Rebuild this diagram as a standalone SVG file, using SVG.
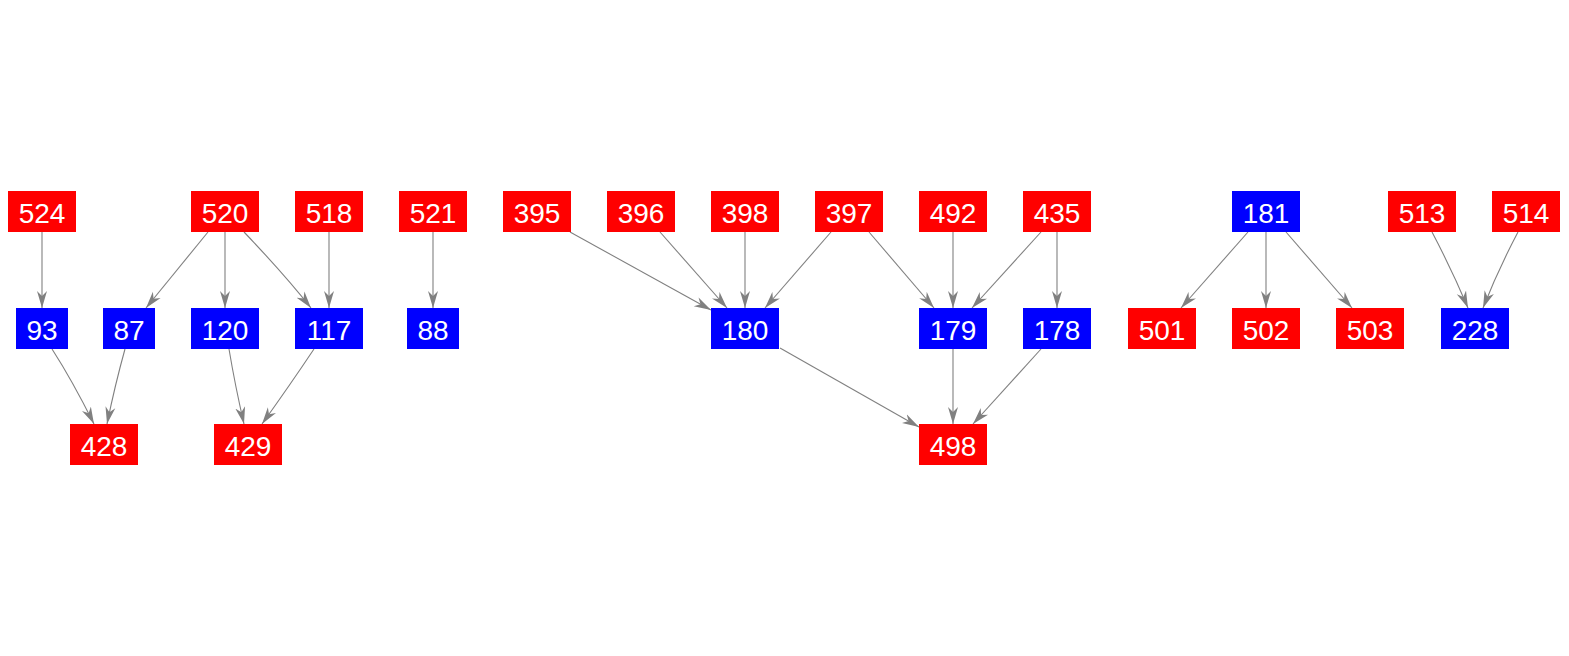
<svg xmlns="http://www.w3.org/2000/svg" width="1569" height="656" viewBox="0 0 1569 656">
<style>
.r{fill:#ff0000}
.b{fill:#0000ff}
text{font-family:"Liberation Sans",Arial,sans-serif;font-size:28px;fill:#ffffff;text-anchor:middle}
.e path{fill:none;stroke:#808080;stroke-width:1.1;marker-end:url(#ah)}
</style>
<defs>
<marker id="ah" markerUnits="userSpaceOnUse" markerWidth="17" markerHeight="11" viewBox="0 0 17 11" refX="17" refY="5.5" orient="auto">
<path d="M17,5.5 L0,0.5 L5,5.5 L0,10.5 Z" fill="#808080"/>
</marker>
</defs>
<rect width="1569" height="656" fill="#ffffff"/>
<g id="connectors" class="e">
<path d="M42,232 L42,308"/>
<path d="M208,232 L146,308"/>
<path d="M225,232 L225,308"/>
<path d="M244,232 Q285,275 311,308"/>
<path d="M329,232 L329,308"/>
<path d="M52,349 Q72,380 94,424"/>
<path d="M125,349 Q115,385 107,424"/>
<path d="M229,349 Q235,385 244,424"/>
<path d="M314,349 Q290,385 262,424"/>
<path d="M433,232 L433,308"/>
<path d="M570,232 L711,310"/>
<path d="M660,232 L727,308"/>
<path d="M745,232 L745,308"/>
<path d="M831,232 L765,308"/>
<path d="M869,232 L934,308"/>
<path d="M953,232 L953,308"/>
<path d="M1041,232 L972,308"/>
<path d="M1057,232 L1057,308"/>
<path d="M780,348 L919,427"/>
<path d="M953,349 L953,424"/>
<path d="M1041,349 L973,424"/>
<path d="M1248,232 L1181,308"/>
<path d="M1266,232 L1266,308"/>
<path d="M1286,232 L1352,308"/>
<path d="M1432,232 Q1452,270 1468,308"/>
<path d="M1518,232 Q1498,270 1483,308"/>
</g>
<g id="n524"><rect class="r" x="8" y="191" width="68" height="41"/><text x="42" y="223">524</text></g>
<g id="n520"><rect class="r" x="191" y="191" width="68" height="41"/><text x="225" y="223">520</text></g>
<g id="n518"><rect class="r" x="295" y="191" width="68" height="41"/><text x="329" y="223">518</text></g>
<g id="n521"><rect class="r" x="399" y="191" width="68" height="41"/><text x="433" y="223">521</text></g>
<g id="n395"><rect class="r" x="503" y="191" width="68" height="41"/><text x="537" y="223">395</text></g>
<g id="n396"><rect class="r" x="607" y="191" width="68" height="41"/><text x="641" y="223">396</text></g>
<g id="n398"><rect class="r" x="711" y="191" width="68" height="41"/><text x="745" y="223">398</text></g>
<g id="n397"><rect class="r" x="815" y="191" width="68" height="41"/><text x="849" y="223">397</text></g>
<g id="n492"><rect class="r" x="919" y="191" width="68" height="41"/><text x="953" y="223">492</text></g>
<g id="n435"><rect class="r" x="1023" y="191" width="68" height="41"/><text x="1057" y="223">435</text></g>
<g id="n181"><rect class="b" x="1232" y="191" width="68" height="41"/><text x="1266" y="223">181</text></g>
<g id="n513"><rect class="r" x="1388" y="191" width="68" height="41"/><text x="1422" y="223">513</text></g>
<g id="n514"><rect class="r" x="1492" y="191" width="68" height="41"/><text x="1526" y="223">514</text></g>
<g id="n93"><rect class="b" x="16" y="308" width="52" height="41"/><text x="42" y="340">93</text></g>
<g id="n87"><rect class="b" x="103" y="308" width="52" height="41"/><text x="129" y="340">87</text></g>
<g id="n120"><rect class="b" x="191" y="308" width="68" height="41"/><text x="225" y="340">120</text></g>
<g id="n117"><rect class="b" x="295" y="308" width="68" height="41"/><text x="329" y="340">117</text></g>
<g id="n88"><rect class="b" x="407" y="308" width="52" height="41"/><text x="433" y="340">88</text></g>
<g id="n180"><rect class="b" x="711" y="308" width="68" height="41"/><text x="745" y="340">180</text></g>
<g id="n179"><rect class="b" x="919" y="308" width="68" height="41"/><text x="953" y="340">179</text></g>
<g id="n178"><rect class="b" x="1023" y="308" width="68" height="41"/><text x="1057" y="340">178</text></g>
<g id="n501"><rect class="r" x="1128" y="308" width="68" height="41"/><text x="1162" y="340">501</text></g>
<g id="n502"><rect class="r" x="1232" y="308" width="68" height="41"/><text x="1266" y="340">502</text></g>
<g id="n503"><rect class="r" x="1336" y="308" width="68" height="41"/><text x="1370" y="340">503</text></g>
<g id="n228"><rect class="b" x="1441" y="308" width="68" height="41"/><text x="1475" y="340">228</text></g>
<g id="n428"><rect class="r" x="70" y="424" width="68" height="41"/><text x="104" y="456">428</text></g>
<g id="n429"><rect class="r" x="214" y="424" width="68" height="41"/><text x="248" y="456">429</text></g>
<g id="n498"><rect class="r" x="919" y="424" width="68" height="41"/><text x="953" y="456">498</text></g>
</svg>
